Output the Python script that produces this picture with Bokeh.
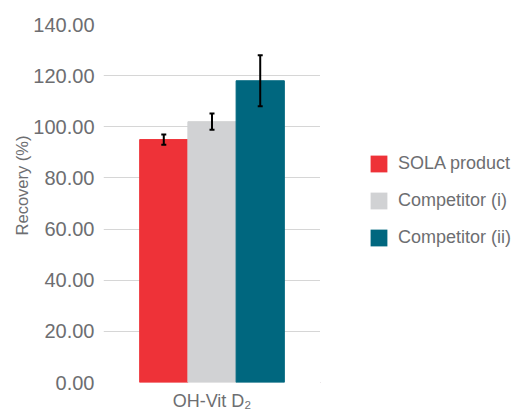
from bokeh.plotting import figure
from bokeh.layouts import row
from bokeh.models import (ColumnDataSource, Range1d, Whisker, Legend, LegendItem,
                          Title, FixedTicker, TeeHead)
from bokeh.embed import file_html
from bokeh.resources import INLINE

categories = ["SOLA product", "Competitor (i)", "Competitor (ii)"]
recovery = [95.0, 102.0, 118.0]
error = [2.0, 3.2, 10.0]
colors = ["#EE3238", "#D1D2D4", "#00677F"]
y_ticks = [0, 20, 40, 60, 80, 100, 120, 140]
y_tick_labels = ["0.00", "20.00", "40.00", "60.00", "80.00", "100.00", "120.00", "140.00"]
group_label = "OH-Vit D\u2082"
y_label = "Recovery (%)"

FONT = "Liberation Sans"
TEXT_COLOR = "#6d6e71"

x = list(range(len(categories)))
source = ColumnDataSource(dict(
    x=x, top=recovery,
    upper=[r + e for r, e in zip(recovery, error)],
    lower=[r - e for r, e in zip(recovery, error)],
    color=colors, label=categories))

# ---- main chart ----
p = figure(width=320, height=413, output_backend="svg", toolbar_location=None,
           x_range=Range1d(-1.25, 3.25), y_range=Range1d(0, 140),
           min_border_left=103, min_border_right=0, min_border_top=24,
           min_border_bottom=30)
p.outline_line_color = None
p.xgrid.visible = False

xax = p.xaxis[0]
xax.ticker = FixedTicker(ticks=[x[1]])
xax.major_label_overrides = {x[1]: group_label}
xax.axis_line_color = None
xax.major_tick_line_color = None
xax.minor_tick_line_color = None
xax.major_tick_out = 0
xax.major_tick_in = 0
xax.major_label_standoff = 8
xax.major_label_text_font = FONT
xax.major_label_text_font_size = "18px"
xax.major_label_text_line_height = 0.9
xax.major_label_text_color = TEXT_COLOR

yax = p.yaxis[0]
yax.ticker = FixedTicker(ticks=y_ticks)
yax.major_label_overrides = {t: l for t, l in zip(y_ticks, y_tick_labels)}
yax.axis_line_color = None
yax.major_tick_line_color = None
yax.minor_tick_line_color = None
yax.major_tick_out = 0
yax.major_tick_in = 0
yax.major_label_standoff = 9
yax.major_label_text_font = FONT
yax.major_label_text_font_size = "20px"
yax.major_label_text_color = TEXT_COLOR

p.ygrid.ticker = FixedTicker(ticks=y_ticks)
p.ygrid.grid_line_color = "#d6d6d6"
p.ygrid.grid_line_width = 1.2

p.vbar(x="x", top="top", bottom=0, width=1.0, color="color", source=source)

head_kw = dict(size=5, line_width=2, line_color="black")
p.add_layout(Whisker(source=source, base="x", upper="upper", lower="lower",
                     line_color="black", line_width=2, level="overlay",
                     upper_head=TeeHead(**head_kw), lower_head=TeeHead(**head_kw)))

p.add_layout(Title(text=y_label, align="right", offset=111, standoff=0,
                   text_font=FONT, text_font_size="16.5px", text_font_style="normal",
                   text_color=TEXT_COLOR), "left")

# ---- legend panel ----
lg = figure(width=199, height=413, output_backend="svg", toolbar_location=None,
            x_range=Range1d(100, 101), y_range=Range1d(1000, 1001),
            min_border_left=0, min_border_right=0, min_border_top=0,
            min_border_bottom=0)
lg.outline_line_color = None
lg.axis.visible = False
lg.grid.visible = False
legend_bars = lg.vbar(x="x", top="top", bottom=0, width=0.001, fill_color="color",
                      line_alpha=0, source=source)

legend = Legend(items=[LegendItem(label=c, renderers=[legend_bars], index=i)
                       for i, c in enumerate(categories)],
                location=(48, 134))
legend.padding = 0
legend.margin = 0
legend.border_line_color = None
legend.background_fill_alpha = 0
legend.glyph_width = 21
legend.glyph_height = 21
legend.label_height = 21
legend.spacing = 16
legend.label_standoff = 9
legend.label_text_font = FONT
legend.label_text_font_size = "18px"
legend.label_text_color = TEXT_COLOR
lg.add_layout(legend, "center")

layout = row(p, lg, spacing=0)
open("out.html", "w").write(file_html(layout, INLINE))
